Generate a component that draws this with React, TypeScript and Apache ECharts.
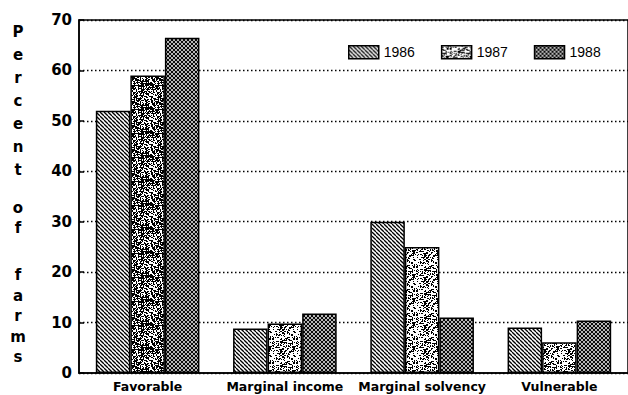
import React, { useEffect, useRef } from "react";
import * as echarts from "echarts";

const categories = ["Favorable", "Marginal income", "Marginal solvency", "Vulnerable"];
const years = ["1986", "1987", "1988"];
const values1986 = [52, 8.8, 30, 9];
const values1987 = [59, 9.8, 25, 6.1];
const values1988 = [66.5, 11.8, 11, 10.4];
const yTicks = [0, 10, 20, 30, 40, 50, 60, 70];

function makeCanvas(w: number, h: number, draw: (ctx: CanvasRenderingContext2D) => void) {
  const c = document.createElement("canvas");
  c.width = w;
  c.height = h;
  const ctx = c.getContext("2d") as CanvasRenderingContext2D;
  draw(ctx);
  return c;
}

function hatchPattern() {
  const s = 4;
  const c = makeCanvas(s, s, (ctx) => {
    ctx.fillStyle = "#fff";
    ctx.fillRect(0, 0, s, s);
    ctx.strokeStyle = "#000";
    ctx.lineWidth = 1.3;
    for (let k = -1; k <= 1; k++) {
      ctx.beginPath();
      ctx.moveTo(k * s, 0);
      ctx.lineTo(k * s + s, s);
      ctx.stroke();
    }
  });
  return { image: c, repeat: "repeat", imageWidth: s, imageHeight: s };
}

function crossPattern() {
  const s = 4;
  const c = makeCanvas(s, s, (ctx) => {
    ctx.fillStyle = "#fff";
    ctx.fillRect(0, 0, s, s);
    ctx.strokeStyle = "#000";
    ctx.lineWidth = 1.1;
    for (let k = -1; k <= 1; k++) {
      ctx.beginPath();
      ctx.moveTo(k * s, 0);
      ctx.lineTo(k * s + s, s);
      ctx.stroke();
      ctx.beginPath();
      ctx.moveTo(k * s + s, 0);
      ctx.lineTo(k * s, s);
      ctx.stroke();
    }
  });
  return { image: c, repeat: "repeat", imageWidth: s, imageHeight: s };
}

function hash(x: number, y: number, seed: number) {
  let h = (Math.imul(x, 374761393) + Math.imul(y, 668265263) + Math.imul(seed, 1442695041)) | 0;
  h = Math.imul(h ^ (h >>> 13), 1274126177);
  h = h ^ (h >>> 16);
  return (h >>> 0) % 1000;
}

function stipplePattern(threshold: number, seed: number) {
  const s = 24;
  const c = makeCanvas(s, s, (ctx) => {
    ctx.fillStyle = "#fff";
    ctx.fillRect(0, 0, s, s);
    ctx.fillStyle = "#000";
    for (let y = 0; y < s; y++) {
      for (let x = 0; x < s; x++) {
        if (hash(x, y, seed) < threshold) ctx.fillRect(x, y, 1, 1);
      }
    }
  });
  return { image: c, repeat: "repeat", imageWidth: s, imageHeight: s };
}

export default function App() {
  const ref = useRef<HTMLDivElement>(null);

  useEffect(() => {
    if (!ref.current) return;
    const chart = echarts.init(ref.current, null, { renderer: "svg" });
    const p1986 = hatchPattern();
    const p1987 = stipplePattern(330, 7);
    const p1987dark = stipplePattern(600, 3);
    const p1988 = crossPattern();
    const border = { borderColor: "#000", borderWidth: 1.5 };
    const labelFont = "bold 15px 'DejaVu Sans'";

    const letterText = (text: string, firstCenter: number, lh: number) => ({
      type: "text",
      x: 18,
      y: firstCenter - lh / 2,
      style: {
        text,
        font: labelFont,
        fill: "#000",
        textAlign: "center",
        textVerticalAlign: "top",
        lineHeight: lh,
      },
    });

    const option: any = {
      animation: false,
      backgroundColor: "#fff",
      grid: {
        left: 79,
        top: 20,
        width: 562,
        height: 353,
        show: true,
        borderColor: "#000",
        borderWidth: 1.5,
        backgroundColor: "transparent",
      },
      legend: {
        left: 348,
        top: 45,
        padding: 0,
        itemWidth: 30,
        itemHeight: 13,
        itemGap: 26,
        icon: "rect",
        data: years,
        itemStyle: { borderColor: "#000", borderWidth: 1.5 },
        textStyle: { fontFamily: "'Liberation Sans', Arial", fontSize: 14, color: "#000" },
      },
      xAxis: {
        type: "category",
        data: categories,
        axisTick: { show: false },
        axisLine: { lineStyle: { color: "#000", width: 1.5 } },
        axisLabel: {
          interval: 0,
          hideOverlap: false,
          color: "#000",
          fontFamily: "'DejaVu Sans'",
          fontWeight: "bold",
          fontSize: 12.5,
          margin: 7,
        },
      },
      yAxis: {
        type: "value",
        min: yTicks[0],
        max: yTicks[yTicks.length - 1],
        interval: 10,
        axisLine: { show: true, lineStyle: { color: "#000", width: 1.5 } },
        axisTick: { show: true, inside: true, length: 5, lineStyle: { color: "#000", width: 1.5 } },
        splitLine: { show: true, lineStyle: { color: "#000", width: 1.3, type: [1.5, 2.5] } },
        axisLabel: {
          color: "#000",
          fontFamily: "'DejaVu Sans'",
          fontWeight: "bold",
          fontSize: 15,
          margin: 7,
        },
      },
      graphic: [
        letterText("P\ne\nr\nc\ne\nn\nt", 32, 23),
        letterText("o\nf", 208, 20),
        letterText("f\na\nr\nm\ns", 275, 20.5),
      ],
      series: [
        {
          name: years[0],
          type: "bar",
          data: values1986,
          barGap: "0%",
          barCategoryGap: "24.5%",
          itemStyle: { color: p1986, ...border },
        },
        {
          name: years[1],
          type: "bar",
          data: values1987.map((v, i) =>
            i === 0 ? { value: v, itemStyle: { color: p1987dark, ...border } } : v
          ),
          barGap: "0%",
          barCategoryGap: "24.5%",
          itemStyle: { color: p1987, ...border },
        },
        {
          name: years[2],
          type: "bar",
          data: values1988,
          barGap: "0%",
          barCategoryGap: "24.5%",
          itemStyle: { color: p1988, ...border },
        },
      ],
    };
    chart.setOption(option);
    return () => chart.dispose();
  }, []);

  return (
    <div
      ref={ref}
      style={{ position: "fixed", left: 0, top: 0, width: 628, height: 395, background: "#fff" }}
    />
  );
}
